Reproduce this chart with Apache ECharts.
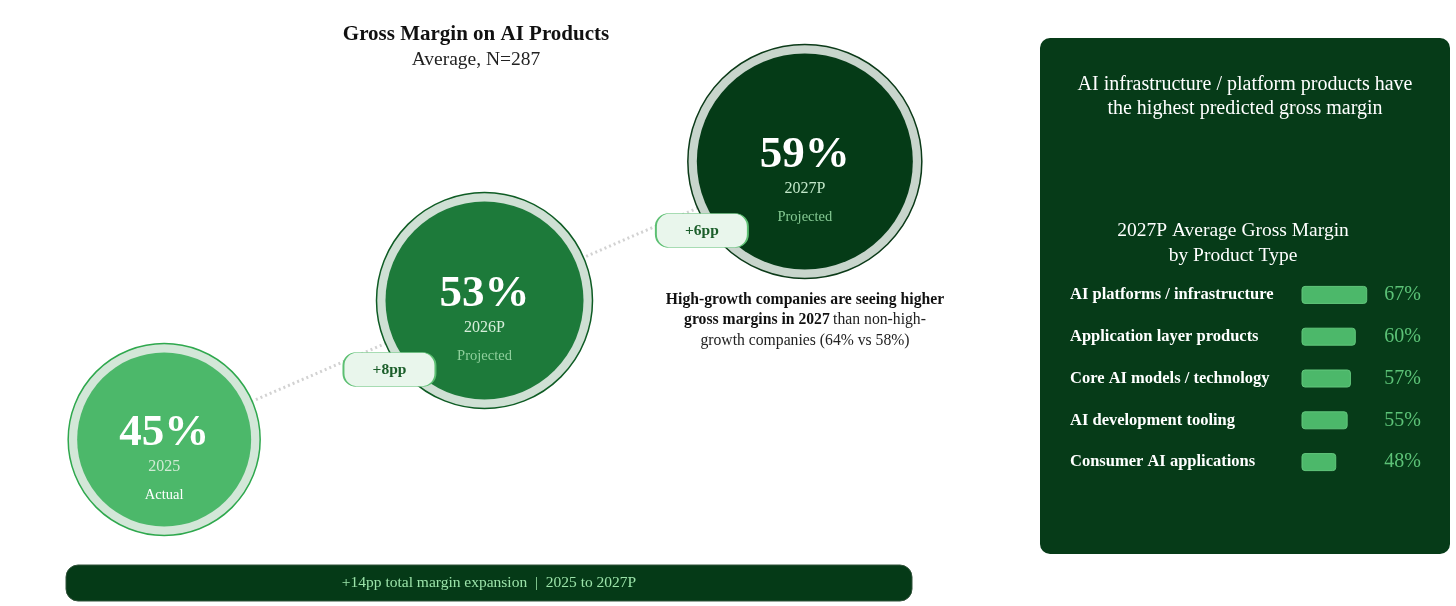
<!DOCTYPE html>
<html>
<head>
<meta charset="utf-8">
<script src="https://cdn.jsdelivr.net/npm/echarts@6/dist/echarts.min.js"></script>
<style>
html, body { margin: 0; padding: 0; background: #fff; }
#main { width: 1456px; height: 606px; }
</style>
</head>
<body>
<div id="main"></div>
<script>
// margin progression
var years = ['2025', '2026P', '2027P'];
var margins = [45, 53, 59];
var stages = ['Actual', 'Projected', 'Projected'];

// 2027P margin by product type
var productTypes = ['AI platforms / infrastructure', 'Application layer products', 'Core AI models / technology', 'AI development tooling', 'Consumer AI applications'];
var productMargins = [67, 60, 57, 55, 48];

var FONT = 'Liberation Serif';
var fills = ['#4cb86a', '#1d7a3a', '#053b17'];
var rings = ['#d3e7d8', '#cfe0d4', '#c8d5cc'];
var strokes = ['#2ea84d', '#0e5c24', '#0b3a18'];
var yearColors = ['#d2ebd6', '#d6eeda', '#c3e8ca'];
var stageColors = ['#ffffff', '#8fcf9c', '#85c993'];
var pillPath = 'path://M13,0H79A13,13 0 0 1 92,13V21A13,13 0 0 1 79,34H13A13,13 0 0 1 0,21V13A13,13 0 0 1 13,0Z';

function circleSize(v) { return 192 + (v - 45) * 3; }

var ringData = [], coreData = [], pillData = [], pathData = [];
for (var i = 0; i < margins.length; i++) {
	pathData.push([i, i]);
	ringData.push({
		value: [i, i, margins[i]],
		itemStyle: { color: rings[i], borderColor: strokes[i], borderWidth: 1.5, opacity: 1 }
	});
	coreData.push({
		value: [i, i, margins[i]],
		itemStyle: { color: fills[i], opacity: 1 },
		label: {
			formatter: '{v|' + margins[i] + '%}\n{y|' + years[i] + '}\n{s|' + stages[i] + '}',
			rich: {
				v: { fontFamily: FONT, fontSize: 45, color: '#fff', lineHeight: 44, fontWeight: 'bold' },
				y: { fontFamily: FONT, fontSize: 16, color: yearColors[i], lineHeight: 22 },
				s: { fontFamily: FONT, fontSize: 14.5, color: stageColors[i], lineHeight: 36 }
			}
		}
	});
	if (i > 0) {
		// pill sits on the lower-left edge of the circle it leads into
		pillData.push({
			value: [i, i, margins[i] - margins[i - 1]],
			symbolOffset: [-0.88 * circleSize(margins[i]) / 2, 69]
		});
	}
}

var myChart = echarts.init(document.getElementById('main'));
var option = {
	animation: false,
	grid: [
		{ left: 4, top: 92, width: 961, height: 417 },
		{ left: 1302, top: 274, width: 119, height: 209 }
	],
	xAxis: [
		{ gridIndex: 0, type: 'category', data: years, show: false },
		{ gridIndex: 1, type: 'value', min: 27, max: 100, show: false }
	],
	yAxis: [
		{ gridIndex: 0, type: 'category', data: years, show: false },
		{
			gridIndex: 1, type: 'category', data: productTypes, inverse: true, z: 5,
			axisLine: { show: false }, axisTick: { show: false },
			axisLabel: { margin: 232, align: 'left', color: '#fff', fontFamily: FONT, fontSize: 16.5, fontWeight: 'bold' }
		},
		{
			gridIndex: 1, type: 'category', position: 'right', inverse: true, z: 5,
			data: productMargins.map(function (v) { return v + '%'; }),
			axisLine: { show: false }, axisTick: { show: false },
			axisLabel: { margin: 0, align: 'right', color: '#5cc277', fontFamily: FONT, fontSize: 20 }
		}
	],
	graphic: [
		{ type: 'text', x: 476, y: 35, style: { text: 'Gross Margin on AI Products', textAlign: 'center', textVerticalAlign: 'middle', fill: '#111', font: 'bold 21px "Liberation Serif"' } },
		{ type: 'text', x: 476, y: 60, style: { text: 'Average, N=287', textAlign: 'center', textVerticalAlign: 'middle', fill: '#222', font: '19.5px "Liberation Serif"' } },
		{
			type: 'text', x: 805, y: 320, z: 10,
			style: {
				text: '{b|High-growth companies are seeing higher}\n{b|gross margins in 2027} {n|than non-high-}\n{n|growth companies (64% vs 58%)}',
				textAlign: 'center', textVerticalAlign: 'middle',
				rich: {
					b: { fontFamily: FONT, fontSize: 15.7, fontWeight: 'bold', fill: '#111', lineHeight: 20.5 },
					n: { fontFamily: FONT, fontSize: 15.7, fill: '#222', lineHeight: 20.5 }
				}
			}
		},
		{ type: 'rect', z: -1, shape: { x: 66, y: 565, width: 846, height: 36, r: 12 }, style: { fill: '#053a17', stroke: '#31523a', lineWidth: 1 } },
		{
			type: 'text', x: 489, y: 583,
			style: {
				text: '+' + (margins[2] - margins[0]) + 'pp total margin expansion  |  ' + years[0] + ' to ' + years[2],
				textAlign: 'center', textVerticalAlign: 'middle', fill: '#9be3a9', font: '15.5px "Liberation Serif"'
			}
		},
		{ type: 'rect', z: -1, shape: { x: 1040, y: 38, width: 410, height: 516, r: 10 }, style: { fill: '#063b18' } },
		{
			type: 'text', x: 1245, y: 97,
			style: {
				text: 'AI infrastructure / platform products have\nthe highest predicted gross margin',
				textAlign: 'center', textVerticalAlign: 'middle', fill: '#fff', font: '20px "Liberation Serif"', lineHeight: 24
			}
		},
		{
			type: 'text', x: 1233, y: 243,
			style: {
				text: '2027P Average Gross Margin\nby Product Type',
				textAlign: 'center', textVerticalAlign: 'middle', fill: '#fff', font: '19.5px "Liberation Serif"', lineHeight: 25
			}
		}
	],
	series: [
		{
			type: 'line', xAxisIndex: 0, yAxisIndex: 0, z: 1,
			data: pathData, showSymbol: false, silent: true,
			lineStyle: { color: '#d2d2d2', width: 3, type: [2, 3] }
		},
		{
			type: 'scatter', xAxisIndex: 0, yAxisIndex: 0, z: 2,
			data: ringData,
			symbolSize: function (val) { return circleSize(val[2]); }
		},
		{
			type: 'scatter', xAxisIndex: 0, yAxisIndex: 0, z: 3,
			data: coreData,
			symbolSize: function (val) { return circleSize(val[2]) - 18; },
			label: { show: true, position: 'inside', offset: [0, 23] }
		},
		{
			type: 'scatter', xAxisIndex: 0, yAxisIndex: 0, z: 4,
			data: pillData,
			symbol: pillPath, symbolSize: [92, 34],
			itemStyle: { color: '#e9f6ec', borderColor: '#5cbf72', borderWidth: 1.2, opacity: 1 },
			label: {
				show: true, position: 'inside',
				formatter: function (p) { return '+' + p.value[2] + 'pp'; },
				color: '#1b5e2a', fontFamily: FONT, fontSize: 15.5, fontWeight: 'bold'
			}
		},
		{
			type: 'bar', xAxisIndex: 1, yAxisIndex: 1, z: 5,
			data: productMargins, barWidth: 18,
			itemStyle: { color: '#4cb86a', borderColor: '#62c77c', borderWidth: 1, borderRadius: 3 }
		}
	]
};
myChart.setOption(option);
</script>
</body>
</html>
